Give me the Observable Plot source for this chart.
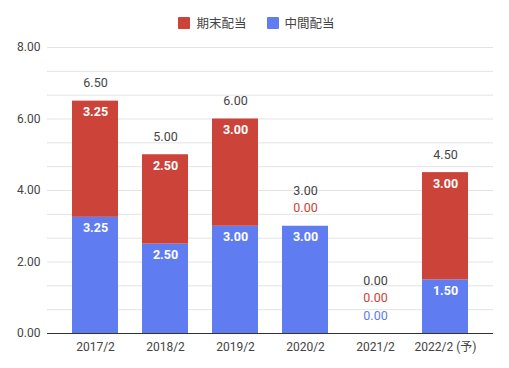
<!DOCTYPE html>
<html><head><meta charset="utf-8">
<script src="https://cdn.jsdelivr.net/npm/d3@7"></script>
<script src="https://cdn.jsdelivr.net/npm/@observablehq/plot@0.6"></script>
<style>
body{margin:0;background:#fff;font-family:Roboto,"Noto Sans CJK JP",sans-serif;}
#wrap{position:relative;width:509px;height:368px;}
#legend{position:absolute;top:13px;left:2px;width:509px;display:flex;justify-content:center;font-size:12.5px;color:#444;}
.item{display:flex;align-items:center;margin:0 10px;}
.sw{width:12px;height:12px;margin-right:6px;display:inline-block;border-radius:1px;}
</style></head>
<body>
<div id="wrap"><div id="legend"></div><div id="chart"></div></div>
<script>
const categories = ["2017/2","2018/2","2019/2","2020/2","2021/2","2022/2 (予)"];
const interim = [3.25, 2.50, 3.00, 3.00, 0.00, 1.50];   // 中間配当
const yearEnd = [3.25, 2.50, 3.00, 0.00, 0.00, 3.00];   // 期末配当
const seriesNames = ["中間配当", "期末配当"];
const legendOrder = ["期末配当", "中間配当"];
const yTicks = [0, 2, 4, 6, 8];

const colors = {"中間配当": "#5f7cf1", "期末配当": "#cc4439"};

const rows = [];
categories.forEach((c, i) => {
  rows.push({cat: c, series: "中間配当", value: interim[i], y1: 0, y2: interim[i]});
  rows.push({cat: c, series: "期末配当", value: yearEnd[i], y1: interim[i], y2: interim[i] + yearEnd[i]});
});
const inside = rows.filter(d => d.value > 0);
const above = [];
categories.forEach((c, i) => {
  const total = interim[i] + yearEnd[i];
  let k = 0;
  rows.filter(d => d.cat === c && d.value === 0).forEach(d => {
    above.push({cat: c, y: total, k: k++, text: d.value.toFixed(2), color: colors[d.series]});
  });
  above.push({cat: c, y: total, k: k++, text: total.toFixed(2), color: "#444"});
});

const grid = d3.range(13).map(i => i * 2 / 3);

const aboveMarks = [0, 1, 2].map(k =>
  Plot.text(above.filter(d => d.k === k), {x: "cat", y: "y", text: "text", fill: "color", dy: -18 - 17.5 * k, fontSize: 12.5})
);

const chart = Plot.plot({
  width: 509, height: 368,
  marginTop: 47, marginBottom: 35, marginLeft: 47, marginRight: 16,
  style: {fontFamily: 'Roboto,"Noto Sans CJK JP",sans-serif', fontSize: "12px", color: "#444", background: "#fff"},
  x: {domain: categories, range: [59, 481], paddingInner: 0.35, paddingOuter: 0.175, label: null, tickSize: 0, tickPadding: 9},
  y: {domain: [0, 8], ticks: yTicks, tickFormat: d => d.toFixed(2), label: null, tickSize: 0, tickPadding: 7},
  color: {domain: seriesNames, range: seriesNames.map(s => colors[s])},
  marks: [
    Plot.ruleY(grid.filter(g => g > 0), {stroke: "#e3e3e3", strokeWidth: 1}),
    Plot.barY(rows, {x: "cat", y1: "y1", y2: "y2", fill: "series"}),
    Plot.text(inside, {x: "cat", y: "y2", text: d => d.value.toFixed(2), dy: 11, fill: "#fff", fontWeight: "bold", fontSize: 12.5}),
    ...aboveMarks,
    Plot.ruleY([0], {stroke: "#333", strokeWidth: 1})
  ]
});
document.getElementById("chart").appendChild(chart);

const lg = document.getElementById("legend");
legendOrder.forEach(s => {
  const it = document.createElement("div"); it.className = "item";
  it.innerHTML = `<span class="sw" style="background:${colors[s]}"></span><span>${s}</span>`;
  lg.appendChild(it);
});
</script>
</body></html>
